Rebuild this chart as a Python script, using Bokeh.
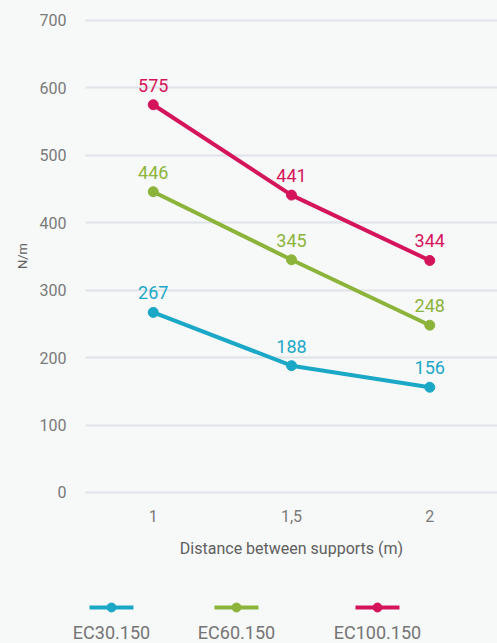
from bokeh.plotting import figure
from bokeh.layouts import column
from bokeh.models import ColumnDataSource, FixedTicker, Range1d
from bokeh.core.properties import value
from bokeh.embed import file_html
from bokeh.resources import INLINE

distance = [1.0, 1.5, 2.0]
tick_labels = {1: "1", 1.5: "1,5", 2: "2"}
series_names = ["EC30.150", "EC60.150", "EC100.150"]
ec30 = [267, 188, 156]
ec60 = [446, 345, 248]
ec100 = [575, 441, 344]
colors = ["#1ba8c7", "#8cb43a", "#d5155b"]
y_ticks = [0, 100, 200, 300, 400, 500, 600, 700]

FONT = "Roboto"
BG = "#f7f8f8"

p = figure(width=497, height=560, output_backend="svg", toolbar_location=None,
           x_range=Range1d(0.755, 2.245), y_range=Range1d(-9, 710.3),
           min_border_left=85, min_border_right=0, min_border_top=13,
           min_border_bottom=60,
           background_fill_color=BG, border_fill_color=BG, outline_line_color=None)

for vals, col in zip([ec30, ec60, ec100], colors):
    src = ColumnDataSource(dict(x=distance, y=vals, t=[str(v) for v in vals]))
    p.line("x", "y", source=src, line_color=col, line_width=4)
    p.scatter("x", "y", source=src, size=10, fill_color=col, line_color=col)
    p.text("x", "y", text="t", source=src, text_color=col, text_align="center",
           text_baseline="bottom", y_offset=-13, text_font_size="18px",
           text_font=value(FONT))

p.xgrid.visible = False
p.ygrid.grid_line_color = "#dfe3e8"
p.ygrid.grid_line_width = 2
p.yaxis.ticker = FixedTicker(ticks=y_ticks)
p.xaxis.ticker = FixedTicker(ticks=distance)
p.xaxis.major_label_overrides = tick_labels
for ax in (p.xaxis[0], p.yaxis[0]):
    ax.axis_line_color = None
    ax.major_tick_line_color = None
    ax.minor_tick_line_color = None
    ax.major_label_text_color = "#7a7a7a"
    ax.major_label_text_font = FONT
    ax.major_label_text_font_size = "16px"
    ax.axis_label_text_color = "#606060"
    ax.axis_label_text_font = FONT
    ax.axis_label_text_font_style = "normal"
p.yaxis.major_label_standoff = 13
p.xaxis.major_label_standoff = 5
p.yaxis.axis_label = "N/m"
p.yaxis.axis_label_text_font_size = "13px"
p.yaxis.axis_label_standoff = 7
p.xaxis.axis_label = "Distance between supports (m)"
p.xaxis.axis_label_text_font_size = "16px"
p.xaxis.axis_label_standoff = 14

# legend figure: x and y in page pixels
leg_x = [111, 236, 377]
leg = figure(width=497, height=83, output_backend="svg", toolbar_location=None,
             x_range=Range1d(0, 497), y_range=Range1d(643, 560),
             min_border=0, background_fill_color=BG, border_fill_color=BG,
             outline_line_color=None)
leg.axis.visible = False
leg.grid.visible = False
for cx, col, name in zip(leg_x, colors, series_names):
    leg.segment(x0=[cx - 22], y0=[607], x1=[cx + 22], y1=[607], line_color=col, line_width=4)
    leg.scatter(x=[cx], y=[607], size=9, fill_color=col, line_color=col)
    leg.text(x=[cx], y=[632], text=[name], text_align="center", text_baseline="middle",
             text_color="#757575", text_font_size="18px", text_font=value(FONT))

layout = column(p, column(leg, spacing=0), spacing=0, styles={"background-color": BG})
open("out.html", "w").write(file_html(layout, INLINE))
